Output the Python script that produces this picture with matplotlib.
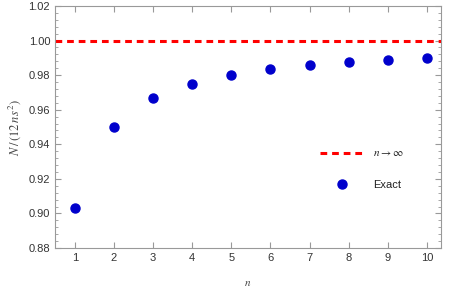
import matplotlib.pyplot as plt
from matplotlib.ticker import MultipleLocator

n = [1, 2, 3, 4, 5, 6, 7, 8, 9, 10]
exact = [0.903, 0.950, 0.967, 0.975, 0.980, 0.9835, 0.986, 0.9877, 0.989, 0.990]
limit = 1.0

plt.rcParams['font.family'] = ['Liberation Sans', 'DejaVu Sans']
plt.rcParams['font.size'] = 8
plt.rcParams['mathtext.fontset'] = 'stix'

fig = plt.figure(figsize=(4.49, 2.92), dpi=100)
ax = fig.add_axes([55 / 449, 1 - 248 / 292, 386 / 449, 242 / 292])

ax.axhline(limit, color='#ff0000', lw=2.2, ls=(0, (2.2, 1.6)), label=r'$n \rightarrow \infty$')
ax.plot(n, exact, 'o', color='#0000cc', ms=6.5, label='Exact')

ax.set_xlim(0.49, 10.36)
ax.set_ylim(0.88, 1.02)
ax.xaxis.set_major_locator(MultipleLocator(1))
ax.yaxis.set_major_locator(MultipleLocator(0.02))
ax.yaxis.set_minor_locator(MultipleLocator(0.004))
ax.yaxis.set_major_formatter(plt.FormatStrFormatter('%.2f'))

for s in ax.spines.values():
    s.set_color('#999999')
    s.set_linewidth(0.8)
ax.tick_params(which='both', direction='in', color='#999999', labelcolor='#333333',
               top=True, right=True, labelsize=8)
ax.tick_params(which='major', length=4)
ax.tick_params(which='minor', length=2)

ax.set_xlabel(r'$n$', color='#444444', fontsize=8, labelpad=11)
ax.set_ylabel(r'$N\,/\,(12\,n\,s^2)$', color='#444444', fontsize=9, labelpad=4)

ax.legend(loc='center left', bbox_to_anchor=(314 / 449, 1 - 169 / 292),
          bbox_transform=fig.transFigure, frameon=False, borderpad=0,
          handlelength=4.0, handletextpad=0.8, labelspacing=1.9,
          fontsize=8, labelcolor='#222222')

fig.savefig('out.png', dpi=100)
